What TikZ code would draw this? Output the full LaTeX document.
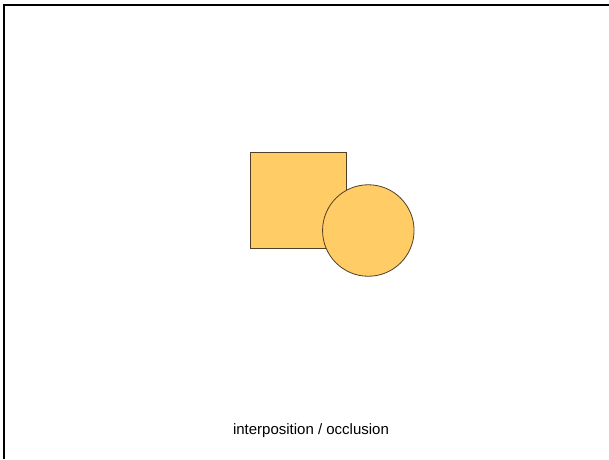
\documentclass[tikz,border=0pt]{standalone}
\usepackage{fontspec}
\setmainfont{Liberation Sans}
\definecolor{shapefill}{RGB}{255,204,102}
\definecolor{shapeline}{RGB}{80,64,40}
\begin{document}
\begin{tikzpicture}[x=1pt,y=1pt,
  shapestyle/.style={fill=shapefill,draw=shapeline,line width=0.8pt},
  framestyle/.style={draw=black,line width=2pt}]
\useasboundingbox (0,0) rectangle (609,459);
\draw[framestyle] (3.5,0) -- (3.5,454) coordinate (fc);
\draw[framestyle] (2.5,454) -- (609,454);
\node[shapestyle,rectangle,minimum width=96pt,minimum height=96pt,inner sep=0pt,anchor=north west] (sq) at (250,307.5) {};
\node[shapestyle,circle,minimum size=91.5pt,inner sep=0pt] (ci) at (368.3,228.5) {};
\node[font=\fontsize{15}{18}\selectfont,anchor=base] (lab) at (311,24.5) {interposition / occlusion};
\end{tikzpicture}
\end{document}
